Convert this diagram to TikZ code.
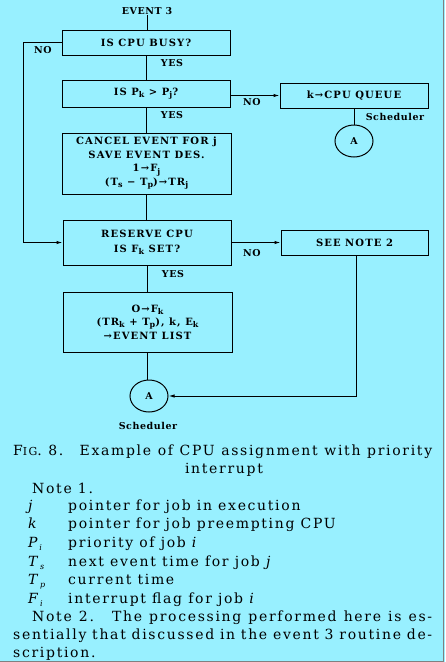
\documentclass[tikz,border=0pt]{standalone}
\usepackage{fontspec}
\setmainfont{DejaVu Serif}
\usetikzlibrary{arrows.meta,shapes.geometric}
\definecolor{bg}{RGB}{152,240,255}
\newcommand{\dn}[1]{\raisebox{-0.45ex}{\fontsize{8}{8}\selectfont #1}}
\newcommand{\notefont}{\fontsize{14}{18}\selectfont\addfontfeature{LetterSpace=12}}
\newcommand{\boxfnt}{\bfseries\fontsize{10}{13.5}\selectfont\addfontfeature{LetterSpace=11}}
\tikzset{
  fbox/.style={draw, line width=1pt, align=center, inner sep=1pt, font=\boxfnt},
  lbl/.style={font=\bfseries\fontsize{9.5}{10}\selectfont\addfontfeature{LetterSpace=6}, inner sep=0pt},
  conn/.style={draw, line width=1pt},
  arr/.style={conn, -{Latex[length=6pt,width=3.4pt]}},
  circ/.style={draw, ellipse, line width=1pt, minimum width=38pt, minimum height=32pt, inner sep=0pt, font=\bfseries\fontsize{9.5}{10}\selectfont},
  txt/.style={anchor=base west, inner sep=0pt, font=\notefont},
}
\begin{document}
\begin{tikzpicture}[x=1pt,y=-1pt]
\fill[bg] (0,0) rectangle (445,662);
\useasboundingbox (0,0) rectangle (445,662);
\draw[gray, line width=1pt] (443.5,0) -- (443.5,661) -- (0,661);

% flowchart
\node[lbl] (ev) at (147,11) {EVENT 3};
\node[fbox, minimum width=168pt, minimum height=25pt] (b1) at (146,42.5) {IS CPU BUSY?};
\node[fbox, minimum width=168pt, minimum height=27pt] (b2) at (146,93.5) {IS P\dn{k} > P\dn{j}?};
\node[fbox, minimum width=148pt, minimum height=25pt] (b3) at (354,95.5) {k→CPU QUEUE};
\node[circ] (a1) at (354,141) {A};
\node[fbox, minimum width=169pt, minimum height=61pt] (b4) at (146.5,163.5)
  {CANCEL EVENT FOR j\\SAVE EVENT DES.\\1→F\dn{j}\\(T\dn{s} − T\dn{p})→TR\dn{j}};
\node[fbox, minimum width=168pt, minimum height=45pt] (b5) at (147,242.5)
  {RESERVE CPU\\[1.5pt]IS F\dn{k} SET?};
\node[fbox, minimum width=147pt, minimum height=25pt] (b6) at (354.5,242.5) {SEE NOTE 2};
\node[fbox, minimum width=169pt, minimum height=60pt] (b7) at (147.5,322)
  {O→F\dn{k}\\(TR\dn{k} + T\dn{p}), k, E\dn{k}\\→EVENT LIST};
\node[circ] (a2) at (149,396) {A};

\coordinate (l1) at (23,42.5);
\coordinate (l2) at (23,242.5);
\coordinate (r1) at (356,396);

\draw[conn] (ev.south) -- (ev.south |- b1.north);
\draw[conn] (b1.south) -- (b1.south |- b2.north);
\draw[conn] (b2.south) -- (b2.south |- b4.north);
\draw[conn] (b4.south) -- (b4.south |- b5.north);
\draw[conn] (b5.south) -- (b5.south |- b7.north);
\draw[conn] (b7.south) -- (b7.south |- a2.north);
\draw[arr] (b1.west) -- (l1) -- (l2) -- (b5.west);
\draw[arr] (b2.east |- b3.west) -- (b3.west);
\draw[arr] (b5.east) -- (b6.west);
\draw[conn] (b3.south) -- (a1.north);
\draw[arr] (b6.south -| r1) -- (r1) -- (a2.east);

\node[lbl] at (43,50.5) {NO};
\node[lbl] at (172,63) {YES};
\node[lbl] at (252,102.5) {NO};
\node[lbl] at (172,115.5) {YES};
\node[lbl] at (395,117) {Scheduler};
\node[lbl] at (252,253) {NO};
\node[lbl] at (173,274.5) {YES};
\node[lbl] at (148,425.5) {Scheduler};

% caption and notes
\node[txt] at (13,455) {\makebox[419pt][s]{F{\fontsize{11}{12}\selectfont IG}. 8. \ Example of CPU assignment with priority}};
\node[anchor=base, inner sep=0pt, font=\notefont] at (224,473) {interrupt};
\node[txt] at (32,493) {Note 1.};
\node[txt] at (28,510) {\textit{j}};
\node[txt] at (68,510) {pointer for job in execution};
\node[txt] at (28,528) {\textit{k}};
\node[txt] at (68,528) {pointer for job preempting CPU};
\node[txt] at (28,547) {\textit{P}\dn{\textit{i}}};
\node[txt] at (68,547) {priority of job \textit{i}};
\node[txt] at (28,566) {\textit{T}\dn{\textit{s}}};
\node[txt] at (68,566) {next event time for job \textit{j}};
\node[txt] at (28,584) {\textit{T}\dn{\textit{p}}};
\node[txt] at (68,584) {current time};
\node[txt] at (28,603) {\textit{F}\dn{\textit{i}}};
\node[txt] at (68,603) {interrupt flag for job \textit{i}};
\node[txt] at (32,621) {\makebox[400pt][s]{Note 2. \ The processing performed here is es-}};
\node[txt] at (13,639) {\makebox[419pt][s]{sentially that discussed in the event 3 routine de-}};
\node[txt] at (13,657) {scription.};
\end{tikzpicture}
\end{document}
